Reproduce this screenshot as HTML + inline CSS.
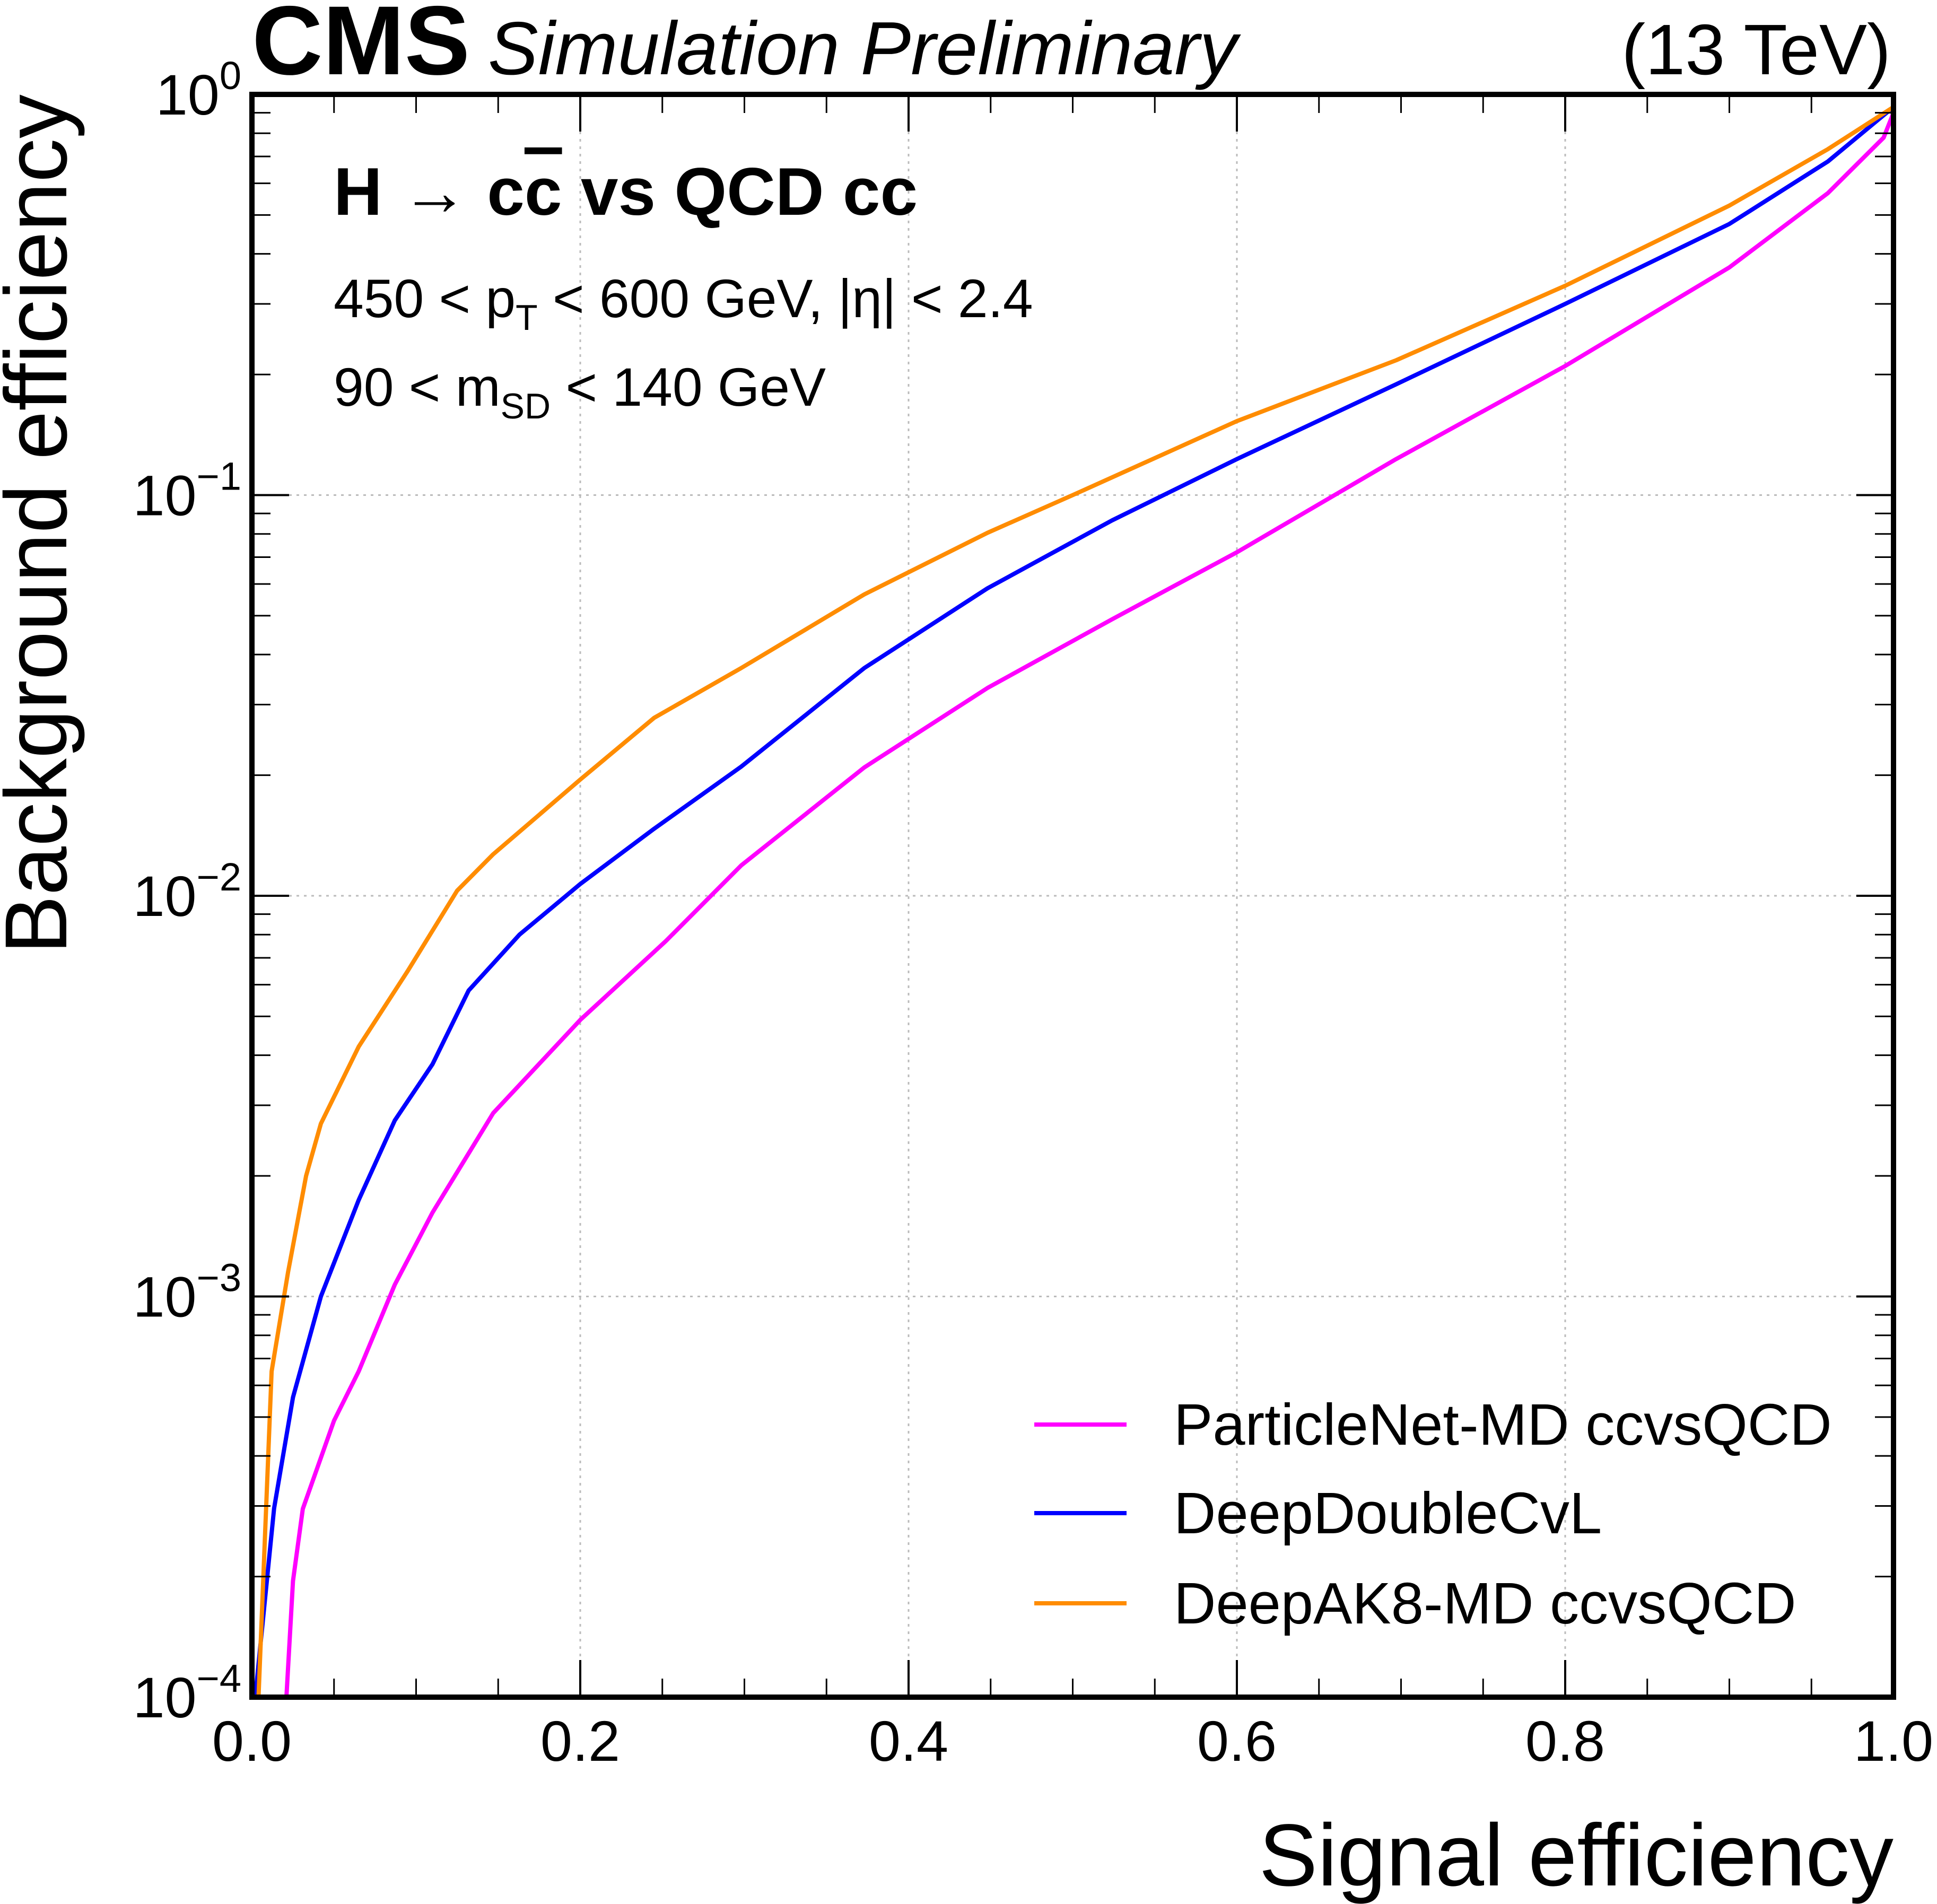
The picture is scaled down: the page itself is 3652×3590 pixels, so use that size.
<!DOCTYPE html>
<html><head><meta charset="utf-8"><style>
html,body{margin:0;padding:0;background:#fff;}
svg{display:block;font-family:"Liberation Sans",sans-serif;}
</style></head><body>
<svg id="chart" width="3652" height="3590" viewBox="0 0 3652 3590" xmlns="http://www.w3.org/2000/svg">
<g id="grid"></g>
<g id="curves"></g>
<g id="ticks"></g>
<rect x="475" y="178" width="3095" height="3022" fill="none" stroke="#000" stroke-width="10"/>
<text x="475" y="140" font-size="185" font-weight="bold">CMS</text>
<text x="920" y="140" font-size="142" font-style="italic">Simulation Preliminary</text>
<text x="3565" y="140" font-size="135" text-anchor="end">(13 TeV)</text>
<text x="629" y="405" font-size="127" font-weight="bold">H → c<tspan text-decoration="overline">c</tspan> vs QCD cc</text>
<text x="629" y="598" font-size="102">450 &lt; p<tspan font-size="68" dy="24">T</tspan><tspan dy="-24"> &lt; 600 GeV, |η| &lt; 2.4</tspan></text>
<text x="629" y="765" font-size="102">90 &lt; m<tspan font-size="68" dy="24">SD</tspan><tspan dy="-24"> &lt; 140 GeV</tspan></text>
<text x="3570" y="3555" font-size="166" text-anchor="end">Signal efficiency</text>
<text transform="translate(125,178) rotate(-90)" font-size="166" text-anchor="end">Background efficiency</text>
<g id="legend"></g>
</svg>
<script>
const xTicks = [0, 0.2, 0.4, 0.6, 0.8, 1.0];
const xTickLabels = ["0.0", "0.2", "0.4", "0.6", "0.8", "1.0"];
const yDecades = [0, -1, -2, -3, -4];
const yTickLabels = ["0", "−1", "−2", "−3", "−4"];
const seriesNames = ["ParticleNet-MD ccvsQCD", "DeepDoubleCvL", "DeepAK8-MD ccvsQCD"];
const seriesColors = ["#ff00ff", "#0000ff", "#ff8c00"];
const pnX = [0.021,0.025,0.031,0.05,0.065,0.087,0.11,0.147,0.2,0.252,0.298,0.373,0.448,0.524,0.6,0.697,0.8,0.9,0.96,0.994,1.0];
const pnY = [1e-4,1.95e-4,2.95e-4,4.9e-4,6.5e-4,1.07e-3,1.62e-3,2.87e-3,4.9e-3,7.7e-3,1.19e-2,2.09e-2,3.3e-2,4.9e-2,7.2e-2,0.123,0.21,0.37,0.567,0.78,0.9];
const ddX = [0.002,0.0135,0.025,0.042,0.065,0.087,0.11,0.132,0.163,0.2,0.245,0.298,0.373,0.448,0.524,0.6,0.697,0.8,0.9,0.96,1.0];
const ddY = [1e-4,2.96e-4,5.6e-4,1e-3,1.74e-3,2.75e-3,3.8e-3,5.8e-3,8.0e-3,1.07e-2,1.47e-2,2.1e-2,3.7e-2,5.85e-2,8.65e-2,0.123,0.189,0.3,0.475,0.68,0.93];
const akX = [0.004,0.012,0.022,0.033,0.042,0.065,0.095,0.125,0.147,0.2,0.245,0.298,0.373,0.448,0.5,0.6,0.697,0.8,0.9,0.96,1.0];
const akY = [1e-4,6.5e-4,1.15e-3,2.0e-3,2.7e-3,4.2e-3,6.5e-3,1.03e-2,1.27e-2,1.95e-2,2.78e-2,3.7e-2,5.65e-2,8.05e-2,0.1,0.153,0.217,0.333,0.528,0.73,0.93];

const X0=475, X1=3570, Y0=178, Y1=3200;
const NS="http://www.w3.org/2000/svg";
function sx(v){return X0+(X1-X0)*v;}
function sy(v){return Y0+(Y1-Y0)*(0-Math.log10(v))/4;}
function mk(tag,attrs,parent){const e=document.createElementNS(NS,tag);for(const k in attrs)e.setAttribute(k,attrs[k]);parent.appendChild(e);return e;}
const grid=document.getElementById('grid'), ticks=document.getElementById('ticks'), curves=document.getElementById('curves'), legend=document.getElementById('legend'), svg=document.getElementById('chart');

xTicks.forEach((v,i)=>{
  const x=sx(v);
  if(i>0&&i<xTicks.length-1){
    const g=mk('line',{x1:x,x2:x,y1:Y0,y2:Y1,stroke:'#bbb','stroke-width':3,'stroke-dasharray':'5,9'},grid);
    
    
  }
  [[Y1,Y1-70],[Y0,Y0+70]].forEach(p=>{
    const t=mk('line',{x1:x,x2:x,y1:p[0],y2:p[1],stroke:'#000','stroke-width':4},ticks);
    
    
  });
  const l=mk('text',{x:x,y:3320,'font-size':108,'text-anchor':'middle'},svg);
  l.textContent=xTickLabels[i];
  
  
});
for(let v=0.05;v<1;v+=0.05){
  if(Math.abs(v*5-Math.round(v*5))<1e-6) continue;
  const x=sx(v);
  [[Y1,Y1-35],[Y0,Y0+35]].forEach(p=>{
    const t=mk('line',{x1:x,x2:x,y1:p[0],y2:p[1],stroke:'#000','stroke-width':3},ticks);
    
    
  });
}
yDecades.forEach((d,i)=>{
  const y=sy(Math.pow(10,d));
  if(i>0&&i<yDecades.length-1){
    const g=mk('line',{x1:X0,x2:X1,y1:y,y2:y,stroke:'#bbb','stroke-width':3,'stroke-dasharray':'5,9'},grid);
    
    
  }
  [[X0,X0+70],[X1,X1-70]].forEach(p=>{
    const t=mk('line',{x1:p[0],x2:p[1],y1:y,y2:y,stroke:'#000','stroke-width':4},ticks);
    
    
  });
  const l=mk('text',{x:455,y:y+38,'font-size':108,'text-anchor':'end'},svg);
  l.innerHTML='10<tspan font-size="74" dy="-48">'+yTickLabels[i]+'</tspan>';
  
  
  if(d>-4){
    for(let m=2;m<=9;m++){
      const ym=sy(m*Math.pow(10,d-1));
      [[X0,X0+35],[X1,X1-35]].forEach(p=>{
        const t=mk('line',{x1:p[0],x2:p[1],y1:ym,y2:ym,stroke:'#000','stroke-width':3},ticks);
        
        
      });
    }
  }
});
const series=[[pnX,pnY],[ddX,ddY],[akX,akY]];
const curveNames=['particlenet-curve','deepdoublecvl-curve','deepak8-curve'];
series.forEach((s,k)=>{
  const pts=s[0].map((x,j)=>sx(x).toFixed(1)+','+sy(s[1][j]).toFixed(1)).join(' ');
  const p=mk('polyline',{points:pts,fill:'none',stroke:seriesColors[k],'stroke-width':8,'stroke-linejoin':'round'},curves);
  
  
});
const legY=[2686,2853,3023];
seriesNames.forEach((n,k)=>{
  const l=mk('line',{x1:1950,x2:2124,y1:legY[k],y2:legY[k],stroke:seriesColors[k],'stroke-width':8},legend);
  
  
  const t=mk('text',{x:2213,y:legY[k]+38,'font-size':110},legend);
  t.textContent=n;
  
  
});
</script>
</body></html>
